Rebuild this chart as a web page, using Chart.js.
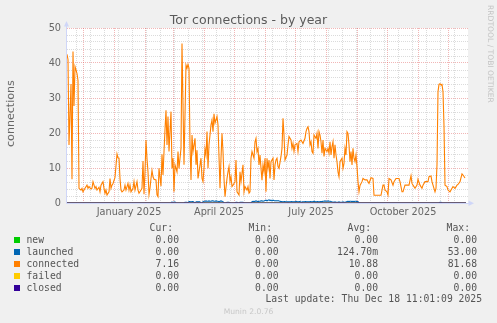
<!DOCTYPE html>
<html>
<head>
<meta charset="utf-8">
<script src="https://cdn.jsdelivr.net/npm/chart.js@4/dist/chart.umd.min.js"></script>
<style>
html,body{margin:0;padding:0;background:#F0F0F0;}
#wrap{position:relative;width:497px;height:323px;overflow:hidden;background:#F0F0F0;font-family:'DejaVu Sans',sans-serif;color:#666;}
#c{position:absolute;left:0;top:0;}
.t{position:absolute;white-space:pre;}
.mono{font-family:'DejaVu Sans Mono',monospace;font-size:9.72px;line-height:12px;color:#555;}
.sq{position:absolute;width:6px;height:6px;}
</style>
</head>
<body>
<div id="wrap">
<canvas id="c" width="497" height="323"></canvas>
<div class="t" id="title" style="left:0;top:12px;width:497px;text-align:center;font-size:12.5px;line-height:15px;color:#5a5a5a;">Tor connections - by year</div>
<div class="t" id="ylab" style="left:4px;top:14px;height:200px;width:14px;line-height:14px;font-size:11.1px;writing-mode:vertical-rl;transform:rotate(180deg);text-align:center;">connections</div>
<div class="t" id="wm" style="left:486px;top:5px;width:8px;line-height:8px;font-size:7.6px;writing-mode:vertical-rl;color:#c4c4c4;">RRDTOOL / TOBI OETIKER</div>
<div id="legend"></div>
<div class="t mono" id="upd" style="left:0;width:482px;text-align:right;top:293px;"></div>
<div class="t" id="munin" style="left:0;width:497px;text-align:center;top:307px;font-size:7.6px;line-height:10px;color:#c8c8c8;">Munin 2.0.76</div>
</div>
<script>
// ---- data (x = days since 2024-11-15) ----
const connectedDays = [0,1,2,4,5,6,7,8,9,10,11,12,14,15,16,18,20,21,22,24,25,26,28,29,30,32,33,34,36,37,38,39,40,42,43,44,45,46,48,50,51,52,53,54,55,57,58,59,61,62,63,64,66,67,68,70,71,72,74,75,76,77,78,79,80,81,82,83,84,85,86,87,89,90,91,92,94,95,96,97,98,99,100,101,102,104,105,106,107,108,110,111,112,114,115,117,119,120,121,122,123,124,125,126,128,129,130,131,132,134,135,136,137,138,139,140,141,142,144,145,146,147,148,150,151,153,154,155,156,157,158,160,161,162,163,164,165,166,168,169,170,172,173,174,176,177,178,180,181,182,183,184,185,187,188,189,190,191,192,193,194,195,196,197,198,199,200,201,202,203,204,206,207,208,209,210,211,212,214,215,216,217,218,220,221,222,224,225,226,227,228,230,231,232,234,235,236,238,239,240,241,242,243,244,245,246,247,249,250,251,252,253,254,255,256,257,258,260,261,262,263,264,265,266,267,268,269,270,271,272,273,275,276,277,278,279,280,281,282,283,284,285,286,287,288,289,290,291,292,293,295,296,298,300,302,304,306,307,314,316,317,318,320,321,322,324,326,327,329,331,332,333,335,336,338,340,342,344,345,346,348,350,351,353,355,356,358,361,362,364,365,366,368,369,370,371,372,373,374,375,376,377,378,380,381,383,385,386,388,390,391,393,395,396,398];
const connected = [42.5,41,16.6,34,6.8,43.3,27.7,39,38,37,35,4.2,3.7,4.2,3.2,4.2,5.1,4.2,4.7,4,4.2,6.1,4.2,4.7,3.7,4.5,3.2,5.1,6.1,4.2,2.8,3.7,2.3,3.2,7,4.2,5.1,5.6,7.3,14,12.9,12.8,7,3.7,3.2,3.7,5.1,3.7,5.6,3.7,5.1,3.2,4.2,6.1,3.7,6.1,3.7,2.8,3.7,4.2,12,2.5,8.9,18,12.6,8.9,2.4,4.2,7,9.3,7.5,6.8,6.6,2.3,1.8,9.9,4.8,13.9,8,14.7,21,26.5,16.6,24.7,14.7,26.1,9.9,12.8,3.2,10.9,8.9,14.7,9.9,15.6,45.6,10.9,39.4,38.5,39.6,38.5,16.6,6.6,19.4,14.7,18.5,10.9,15.1,7,8.9,12.8,7,6.1,9.9,15.4,13.7,20.4,9.9,16.6,22.3,23.7,20.4,25.5,22.8,24.7,22.3,4.2,12.8,19.9,14.7,7,1.8,7,8.9,10.4,6.1,7.5,4.7,5.1,6.1,12.3,3.2,2.3,8.9,6.1,10.9,3.2,4.7,3.7,4.7,2.8,3.2,12.8,14.7,12.8,17.5,18.5,14.7,15.6,10.9,13.7,9.9,6.5,10.9,8.9,12.8,3.2,12.8,9.9,12.3,7,11.8,12.8,6.6,10.9,12.3,12.8,10.4,9.9,13.3,15.6,24.2,19.4,12.3,13.7,16.6,19,18,15.6,17,14.7,16.6,17,14.7,17.5,18,17.5,17,18.5,20.4,21.3,21.8,20.4,16.6,17.5,14.7,14.2,19.4,18.5,19.9,15.6,20.4,19.4,17.5,14.2,18,13.3,15.6,14.7,15.6,14.2,17.5,13.7,16.1,17.5,12.8,16.6,13.7,11.8,8.9,7.5,11.8,12.8,9.9,11.3,15.6,13.7,20.4,19.9,16.6,11.8,14.7,10.9,15.6,12.8,11.8,13.7,10.4,6.1,3.2,5,6.1,7,6.6,6.6,5.6,7.2,7,2.2,2.2,5.1,5.1,3.7,3.2,2.3,7,6.6,5.1,6.1,7,7,7,6.1,3.2,3.2,5.1,5.1,5.1,7.8,5.6,5.1,4.2,5.1,6.8,5.1,4.2,5.1,6.1,6.1,7.5,7.7,6.1,5.1,3.2,4.2,11,31.8,33.9,34.1,33.7,33.9,31.8,22,5.1,4.7,3.7,3.2,4.2,4.7,4.2,5.1,5.3,6.1,8.3,8,7.16];

const launchedDays = [0,104,105,106,107,108,109,117,118,119,120,121,122,123,124,125,126,127,128,129,130,131,132,133,134,135,136,137,138,139,140,141,142,143,144,145,146,147,148,149,150,151,152,153,154,155,156,157,159,160,161,162,163,168,169,170,171,172,173,174,175,176,177,184,185,186,187,188,189,190,191,192,193,194,195,196,197,198,199,200,201,202,203,204,205,206,207,208,209,210,211,212,213,214,215,216,217,218,219,220,221,222,223,224,225,226,227,228,229,230,231,232,233,234,235,236,237,238,239,240,241,242,243,244,245,246,247,248,249,250,251,252,253,254,255,256,257,258,259,260,261,262,263,264,265,266,267,268,269,270,271,272,273,274,275,276,277,278,279,280,281,282,283,284,285,286,287,288,289,290,291,292,372,373,374,375,399];
const launched = [0,0,0.3,0,0.3,0.3,0,0,0.2,0.2,0.2,0,0.4,0.4,0.3,0.4,0.4,0.2,0,0.3,0.4,0.2,0.4,0.3,0,0,0.4,0.5,0.5,0.6,0.5,0.5,0.6,0.5,0.5,0.6,0.6,0.5,0.5,0.6,0.5,0.5,0.3,0.5,0.6,0.5,0.4,0,0,0.2,0.2,0.2,0,0,0.2,0.2,0,0,0.2,0.2,0.2,0.2,0,0,0.4,0.5,0.4,0.5,0.6,0.5,0.4,0.5,0.5,0.6,0.6,0.5,0.6,0.7,0.8,0.6,0.8,0.9,0.7,0.8,0.6,0.8,0.7,0.6,0.7,0.6,0.7,0.6,0.5,0.4,0.4,0.3,0.4,0.4,0.3,0.4,0.2,0.4,0.3,0.4,0.4,0.3,0.4,0.3,0.5,0.4,0.3,0.4,0.4,0.3,0.2,0.4,0.3,0.4,0.4,0.3,0.4,0.3,0.4,0.4,0.3,0.4,0.5,0.4,0.3,0.4,0.4,0.3,0.4,0.4,0.4,0.5,0.5,0.6,0.5,0.5,0.6,0.5,0.5,0.4,0.3,0.3,0.2,0.3,0.2,0.2,0.2,0.3,0.2,0.2,0.2,0.3,0.2,0.2,0.3,0.4,0.5,0.4,0.5,0.5,0.4,0.5,0.4,0.5,0.5,0.4,0.4,0,0,0.2,0.2,0,0];

const flatDays = [0, 399];
const newValues = [0, 0];
const failedValues = [0, 0];
const closedValues = [0, 0];

// axis ticks
const xMin = 0, xMax = 401;
const monthStartDays = [16,47,78,106,137,167,198,228,259,290,320,351,381];
const minorGridDays = [9,23,37,51,65,79,93,107,121,135,149,163,177,191,205,219,233,247,261,275,289,303,317,331,345,359,373,387];
const xLabelDays = [62,152,244,336];
const xLabels = ['January 2025','April 2025','July 2025','October 2025'];
const yMin = 0, yMax = 50, yStep = 2, yLabelEvery = 10;

// legend
const seriesNames = ['new','launched','connected','failed','closed'];
const seriesColors = ['#00CC00','#0066B3','#FF8000','#FFCC00','#330099'];
const curValues = ['0.00','0.00','7.16','0.00','0.00'];
const minValues = ['0.00','0.00','0.00','0.00','0.00'];
const avgValues = ['0.00','124.70m','10.88','0.00','0.00'];
const maxValues = ['0.00','53.00','81.68','0.00','0.00'];
const columnHeaders = ['Cur:','Min:','Avg:','Max:'];
const lastUpdate = 'Last update: Thu Dec 18 11:01:09 2025';

// ---- legend (HTML text) ----
(function(){
  const lg = document.getElementById('legend');
  const hdrRight = [173,272,371,470];
  const valRight = [179,278.5,378,477];
  const rowTop = 234, rowH = 12;
  let html = '';
  columnHeaders.forEach((h,i)=>{
    html += `<div class="t mono" style="left:0;width:${hdrRight[i]}px;text-align:right;top:${rowTop-rowH}px;">${h}</div>`;
  });
  const cols = [curValues,minValues,avgValues,maxValues];
  seriesNames.forEach((n,r)=>{
    const top = rowTop + r*rowH;
    html += `<div class="sq" style="left:14px;top:${top+3}px;background:${seriesColors[r]}"></div>`;
    html += `<div class="t mono" style="left:26.5px;top:${top}px;">${n}</div>`;
    cols.forEach((col,i)=>{
      html += `<div class="t mono" style="left:0;width:${valRight[i]}px;text-align:right;top:${top}px;">${col[r]}</div>`;
    });
  });
  lg.innerHTML = html;
  document.getElementById('upd').textContent = lastUpdate;
})();

// ---- chart ----
const RED = 'rgba(222,80,80,0.42)';
const GRAY = 'rgba(143,143,143,0.32)';
const AXIS = '#CFD6F8';

const pts = (xs, ys) => xs.map((x,i)=>({x:x, y:ys[i]}));

const decor = {
  id:'decor',
  beforeDraw(chart){
    const {ctx, chartArea:a} = chart;
    ctx.save();
    ctx.fillStyle = '#FFFFFF';
    ctx.fillRect(a.left, a.top, a.right-a.left, a.bottom-a.top);
    ctx.restore();
  },
  beforeDatasetsDraw(chart){
    const {ctx, chartArea:a} = chart;
    ctx.save();
    ctx.strokeStyle = AXIS; ctx.fillStyle = AXIS; ctx.lineWidth = 1;
    ctx.beginPath();
    ctx.moveTo(a.left-0.5, a.bottom+0.5); ctx.lineTo(a.left-0.5, a.top-4);
    ctx.moveTo(a.left-0.5, a.bottom+0.5); ctx.lineTo(a.right+1, a.bottom+0.5);
    ctx.stroke();
    ctx.beginPath();
    ctx.moveTo(a.left-3, a.top-1.5); ctx.lineTo(a.left+2, a.top-1.5); ctx.lineTo(a.left-0.5, a.top-7); ctx.closePath(); ctx.fill();
    ctx.beginPath();
    ctx.moveTo(a.right+0.5, a.bottom-2.5); ctx.lineTo(a.right+0.5, a.bottom+3); ctx.lineTo(a.right+6, a.bottom+0.25); ctx.closePath(); ctx.fill();
    ctx.restore();
  }
};

const lineDs = (label, xs, ys, color, order) => ({
  label, data: pts(xs, ys), borderColor: color, backgroundColor: color,
  borderWidth: 1.1, pointRadius: 0, tension: 0, fill: false, order
});

new Chart(document.getElementById('c'), {
  type: 'line',
  data: {
    datasets: [
      lineDs(seriesNames[4], flatDays, closedValues, seriesColors[4], 0),
      lineDs(seriesNames[3], flatDays, failedValues, seriesColors[3], 1),
      lineDs(seriesNames[2], connectedDays, connected, seriesColors[2], 2),
      lineDs(seriesNames[1], launchedDays, launched, seriesColors[1], 3),
      lineDs(seriesNames[0], flatDays, newValues, seriesColors[0], 4)
    ]
  },
  options: {
    responsive: false,
    animation: false,
    events: [],
    layout: { padding: { top: 28, right: 29, bottom: 100, left: 0 } },
    plugins: { legend: { display: false }, tooltip: { enabled: false }, title: { display: false } },
    scales: {
      x: {
        type: 'linear', min: xMin, max: xMax,
        afterFit: s => { s.height = 20; },
        afterBuildTicks: s => {
          s.ticks = [
            ...minorGridDays.map(v=>({value:v})),
            ...monthStartDays.map(v=>({value:v})),
            ...xLabelDays.map(v=>({value:v}))
          ];
        },
        ticks: {
          autoSkip: false, maxRotation: 0, minRotation: 0, padding: 4,
          color: '#666', font: { family: 'DejaVu Sans', size: 9.72 },
          callback: (v) => { const i = xLabelDays.indexOf(v); return i >= 0 ? xLabels[i] : ''; }
        },
        grid: {
          drawTicks: false, lineWidth: 1,
          color: (ctx) => {
            const v = ctx.tick ? ctx.tick.value : null;
            if (xLabelDays.includes(v)) return 'rgba(0,0,0,0)';
            if (monthStartDays.includes(v)) return RED;
            return GRAY;
          }
        },
        border: { display: false, dash: [1,1] }
      },
      y: {
        type: 'linear', min: yMin, max: yMax,
        afterFit: s => { s.width = 67; },
        ticks: {
          stepSize: yStep, padding: 6, autoSkip: false,
          color: '#666', font: { family: 'DejaVu Sans', size: 9.72 },
          callback: (v) => (v % yLabelEvery === 0 ? String(v) : '')
        },
        grid: {
          drawTicks: false, lineWidth: 1,
          color: (ctx) => {
            const v = ctx.tick ? ctx.tick.value : 0;
            return v % yLabelEvery === 0 ? RED : GRAY;
          }
        },
        border: { display: false, dash: [1,1] }
      }
    }
  },
  plugins: [decor]
});
</script>
</body>
</html>
